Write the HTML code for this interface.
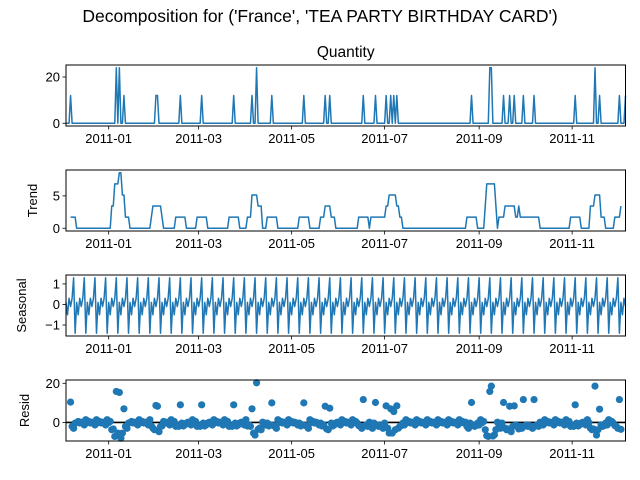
<!DOCTYPE html>
<html><head><meta charset="utf-8"><style>
html,body{margin:0;padding:0;background:#fff;}
svg{display:block;font-family:"Liberation Sans","DejaVu Sans",sans-serif;}
</style></head><body>
<svg id="fig" width="640" height="480" xmlns="http://www.w3.org/2000/svg">
<rect width="640" height="480" fill="#fff"/>
<text x="320" y="22" text-anchor="middle" font-size="17.5" fill="#000">Decomposition for ('France', 'TEA PARTY BIRTHDAY CARD')</text>
</svg>
<script>
// ---- data ----
const nDays = 368; // daily index, day 0 = 2010-12-04
const spikeDays = [3,33,35,38,59,60,75,89,110,122,125,135,156,170,173,195,203,210,213,215,217,266,278,279,287,291,294,300,307,334,347,350,363,367];
const spikeValues = [12,24,24,12,12,12,12,12,12,12,24,12,12,12,12,12,12,12,12,12,12,12,24,24,12,12,12,12,12,12,24,12,12,12];
const seasonalPattern = [0.1,-0.5,0.3,-0.1,0.3,1.3,-1.4];
const xTickDays = [28,87,148,209,271,332];
const xTickLabels = ["2011-01","2011-03","2011-05","2011-07","2011-09","2011-11"];
const qtyTicks = [0,20];
const trendTicks = [0,5];
const seasTicks = [-1,0,1];
const residTicks = [0,20];

// ---- derived series (decomposition) ----
const observed = new Array(nDays).fill(0);
spikeDays.forEach((d,i)=>{observed[d]=spikeValues[i];});
const trend = observed.map((v,i)=>{
  if(i<3||i>nDays-4) return null;
  let s=0; for(let k=-3;k<=3;k++) s+=observed[i+k]; return s/7;
});
const seasonal = observed.map((v,i)=>seasonalPattern[i%7]);
const resid = observed.map((v,i)=>trend[i]===null?null:v-trend[i]-seasonal[i]);

// ---- layout ----
const NS="http://www.w3.org/2000/svg";
const svg=document.getElementById('fig');
const L=66, R=625.5, H=61;
const tops=[65,170,275,380];
function xs(d){return L+d*(R-L)/(nDays-1);}
function mk(tag,attrs,parent){const e=document.createElementNS(NS,tag);for(const k in attrs)e.setAttribute(k,attrs[k]);(parent||svg).appendChild(e);return e;}
function lims(arr){const v=arr.filter(a=>a!==null);const mn=Math.min(...v),mx=Math.max(...v);const m=(mx-mn)*0.05;return [mn-m,mx+m];}

function panel(idx,series,ticks,ylabel,labelX,kind,name){
  const top=tops[idx], bot=top+H;
  const [y0,y1]=lims(series);
  const ys=v=>bot-(v-y0)/(y1-y0)*H;
  const g=mk('g',{});
  
  
  if(kind==='line'){
    let pts=[];
    series.forEach((v,i)=>{if(v!==null)pts.push(xs(i).toFixed(2)+','+ys(v).toFixed(2));});
    const pl=mk('polyline',{points:pts.join(' '),fill:'none',stroke:'#1f77b4','stroke-width':1.5,'stroke-linejoin':'round'},g);
    
    
  } else {
    const zl=mk('line',{x1:L,x2:R,y1:ys(0),y2:ys(0),stroke:'#000','stroke-width':1.6},g);
    
    
    series.forEach((v,i)=>{
      if(v===null)return;
      const c=mk('circle',{cx:xs(i),cy:ys(v),r:3.6,fill:'#1f77b4'},g);
      
      
    });
  }
  const fr=mk('rect',{x:L,y:top,width:R-L,height:H,fill:'none',stroke:'#000','stroke-width':1},g);
  
  
  ticks.forEach(t=>{
    const y=ys(t);
    mk('line',{x1:L-3.5,x2:L,y1:y,y2:y,stroke:'#000','stroke-width':0.8},g);
    const tx=mk('text',{x:L-6,y:y+4.6,'text-anchor':'end','font-size':13},g);
    tx.textContent=(t<0?'\u2212'+(-t):String(t));
    
    
  });
  xTickDays.forEach((d,i)=>{
    const x=xs(d);
    mk('line',{x1:x,x2:x,y1:bot,y2:bot+3.5,stroke:'#000','stroke-width':0.8},g);
    const tx=mk('text',{x:x,y:bot+17,'text-anchor':'middle','font-size':13},g);
    tx.textContent=xTickLabels[i];
    
    
  });
  if(ylabel){
    const cy=top+H/2;
    const tl=mk('text',{x:labelX,y:cy,'text-anchor':'middle','font-size':13,transform:'rotate(-90 '+labelX+' '+cy+')'},g);
    tl.textContent=ylabel;
    
    
  }
}
panel(0,observed,qtyTicks,null,0,'line','observed');
panel(1,trend,trendTicks,'Trend',37,'line','trend');
panel(2,seasonal,seasTicks,'Seasonal',26,'line','seasonal');
panel(3,resid,residTicks,'Resid',29,'scatter','resid');
const qt=mk('text',{x:(L+R)/2,y:57,'text-anchor':'middle','font-size':15.5});
qt.textContent='Quantity';


</script>
</body></html>
